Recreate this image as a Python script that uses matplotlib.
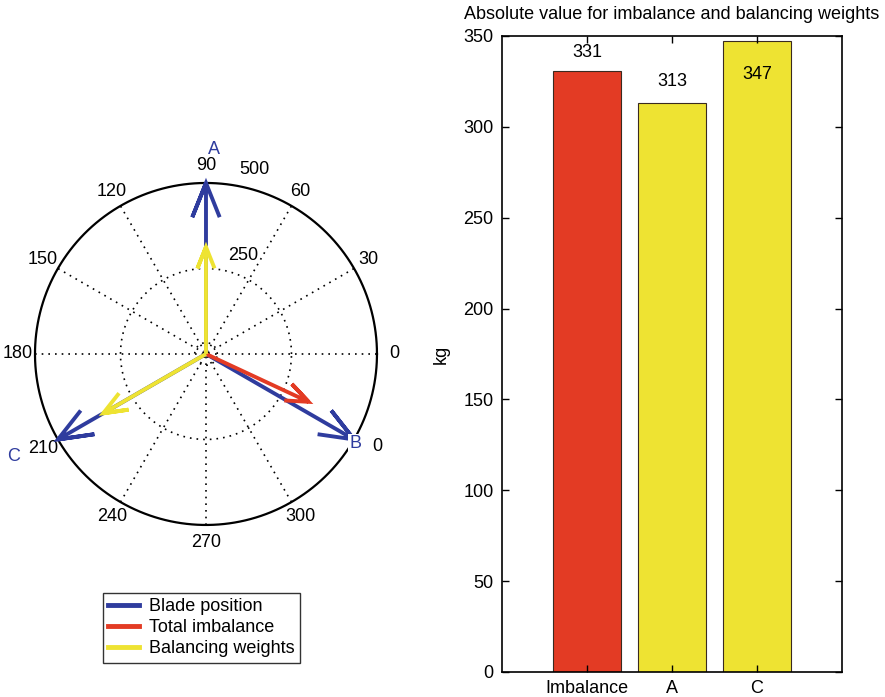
import numpy as np
import matplotlib.pyplot as plt
from matplotlib.lines import Line2D

plt.rcParams['font.family'] = ['Liberation Sans', 'DejaVu Sans']
plt.rcParams['font.size'] = 13

# Blade positions (deg) and vector magnitudes (kg)
blade_names = ['A', 'B', 'C']
blade_angles = [90, 330, 210]
blade_length = 500

imbalance_mag = 331
imbalance_angle = 335

weight_names = ['A', 'C']
weight_mags = [313, 347]
weight_angles = [90, 210]

# Bar chart values
bar_labels = ['Imbalance', 'A', 'C']
bar_values = [331, 313, 347]
label_offsets = [10, 12, -18]

blue = '#2f3c9e'
red = '#e33b24'
yellow = '#eee332'

fig = plt.figure(figsize=(8.85, 6.97), dpi=100)

# ---- compass plot (left) ----
ax = fig.add_axes([0.0, 0.1966, 0.4655, 0.5911])
ax.set_aspect('equal')
lim = 206 * 500 / 171
ax.set_xlim(-lim, lim)
ax.set_ylim(-lim, lim)
ax.axis('off')

rmax = 500
dots = (0, (1, 3))
t = np.linspace(0, 2 * np.pi, 400)
ax.plot(rmax * np.cos(t), rmax * np.sin(t), color='black', lw=1.6, zorder=2)
for rr in [33, 250]:
    ax.plot(rr * np.cos(t), rr * np.sin(t), color='black', lw=1.2,
            ls=dots, zorder=1)
for a in range(0, 180, 30):
    th = np.radians(a)
    ax.plot([-rmax * np.cos(th), rmax * np.cos(th)],
            [-rmax * np.sin(th), rmax * np.sin(th)],
            color='black', lw=1.2, ls=dots, zorder=1)

# angle labels (330 is mostly hidden behind the B label, only its last digit shows)
for a in range(0, 330, 30):
    th = np.radians(a)
    ax.text(1.1 * rmax * np.cos(th), 1.1 * rmax * np.sin(th), str(a),
            ha='center', va='center', zorder=3)
ax.text(500, -272, '0', ha='center', va='center', zorder=3)
# radius labels
ax.text(143, 538, '500', ha='center', va='center')
ax.text(108, 289, '250', ha='center', va='center')


def compass_arrow(r, ang, color):
    z = r * np.exp(1j * np.radians(ang))
    shape = np.array([0, 1, 0.8, 1, 0.8]) + 1j * np.array([0, 0, 0.08, 0, -0.08])
    pts = shape * z
    ax.plot(pts.real, pts.imag, color=color, lw=2.8, solid_capstyle='butt',
            solid_joinstyle='miter', zorder=4)


for ang in blade_angles:
    compass_arrow(blade_length, ang, blue)
compass_arrow(imbalance_mag, imbalance_angle, red)
for mag, ang in zip(weight_mags, weight_angles):
    compass_arrow(mag, ang, yellow)

# blade letters
ax.text(23, 599, 'A', color=blue, ha='center', va='center')
ax.text(438, -262, 'B', color=blue, ha='center', va='center',
        zorder=5, bbox=dict(facecolor='white', edgecolor='none', pad=1))
ax.text(-564, -301, 'C', color=blue, ha='center', va='center')

handles = [Line2D([], [], color=blue, lw=3.5),
           Line2D([], [], color=red, lw=3.5),
           Line2D([], [], color=yellow, lw=3.5)]
leg = fig.legend(handles, ['Blade position', 'Total imbalance', 'Balancing weights'],
                 loc='upper left', bbox_to_anchor=(103 / 885, 1 - 593 / 697),
                 fontsize=13, frameon=True, fancybox=False, edgecolor='black',
                 handlelength=1.7, handletextpad=0.55, labelspacing=0.22,
                 borderpad=0.3, borderaxespad=0)
leg.get_frame().set_linewidth(1.0)

# ---- bar chart (right) ----
bx = fig.add_axes([0.5672, 0.03587, 0.3842, 0.9125])
pos = np.arange(1, len(bar_values) + 1)
bx.bar(pos, bar_values, width=0.8, color=[red, yellow, yellow],
       edgecolor='#3a2a20', linewidth=0.8)
bx.set_xlim(0, 4)
bx.set_ylim(0, 350)
bx.set_yticks(np.arange(0, 351, 50))
bx.set_xticks(pos)
bx.set_xticklabels(bar_labels)
bx.tick_params(direction='in', top=True, right=True, length=5, width=1,
               labelsize=13, pad=6)
for s in bx.spines.values():
    s.set_linewidth(1.2)
bx.set_ylabel('kg', labelpad=10)
bx.set_title('Absolute value for imbalance and balancing weights', fontsize=13, pad=12)
for p, v, off in zip(pos, bar_values, label_offsets):
    bx.text(p, v + off, str(v), ha='center', va='center')

fig.savefig('out.png', dpi=100)
